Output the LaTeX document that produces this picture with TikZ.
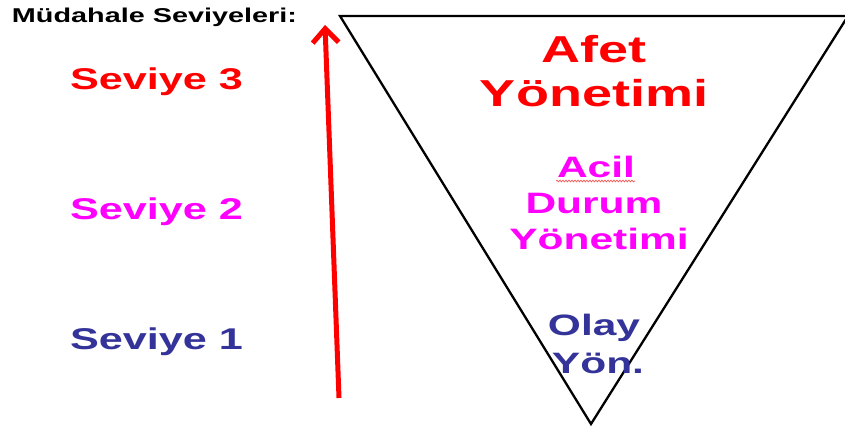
\documentclass[tikz,border=0pt]{standalone}
\usepackage{fontspec}
\setmainfont{Liberation Sans}
\usetikzlibrary{arrows.meta,decorations.pathmorphing}
\definecolor{lvlred}{RGB}{255,0,0}
\definecolor{lvlmag}{RGB}{255,0,255}
\definecolor{lvlblue}{RGB}{51,51,153}
\definecolor{squig}{RGB}{240,90,90}
\tikzset{
  txt/.style={inner sep=0pt, outer sep=0pt, xscale=1.44, font=\bfseries},
  lvl/.style={txt, anchor=base west, font=\bfseries\fontsize{30}{34}\selectfont},
  big/.style={txt, anchor=base, font=\bfseries\fontsize{37.5}{40}\selectfont, text=lvlred},
  mid/.style={txt, anchor=base, font=\bfseries\fontsize{29.5}{32}\selectfont},
  tri/.style={draw=black, line width=2.3pt, line join=miter},
}
\begin{document}
\begin{tikzpicture}[x=1pt,y=-1pt]
\useasboundingbox (0,0) rectangle (845,430);
% triangle
\coordinate (tl) at (340,16);
\coordinate (tr) at (848,16);
\coordinate (apex) at (591,424);
\draw[tri] (tl) -- (tr) -- (apex) -- cycle;
% arrow
\coordinate (foot) at (339,398);
\coordinate (tip) at (325,25);
\draw[draw=lvlred, line width=5pt, -{Straight Barb[length=14pt,width=26pt,line width=5pt]}] (foot) -- (tip);
% title
\node[txt, anchor=base west, font=\bfseries\fontsize{20}{22}\selectfont] (title) at (12,23) {Müdahale Seviyeleri:};
% level labels
\node[lvl, text=lvlred] (s3) at (70,90) {Seviye 3};
\node[lvl, text=lvlmag] (s2) at (70,220) {Seviye 2};
\node[lvl, text=lvlblue] (s1) at (70,349) {Seviye 1};
% inside triangle
\node[big] (afet) at (594,63) {Afet};
\node[big] (afet2) at (594,107) {Yönetimi};
\node[mid, text=lvlmag] (acil) at (596,178) {Acil};
\node[mid, text=lvlmag] (durum) at (594,214) {Durum};
\node[mid, text=lvlmag] (acil3) at (599,250) {Yönetimi};
\node[mid, text=lvlblue] (olay) at (594,335) {Olay};
\node[mid, text=lvlblue] (yon) at (598,373) {Yön.};
% spelling squiggle under Acil
\coordinate (sqa) at (556,181);
\coordinate (sqb) at (635,181);
\draw[squig, line width=0.7pt, decorate, decoration={snake, amplitude=0.9pt, segment length=3pt}] (sqa) -- (sqb);
\end{tikzpicture}
\end{document}
